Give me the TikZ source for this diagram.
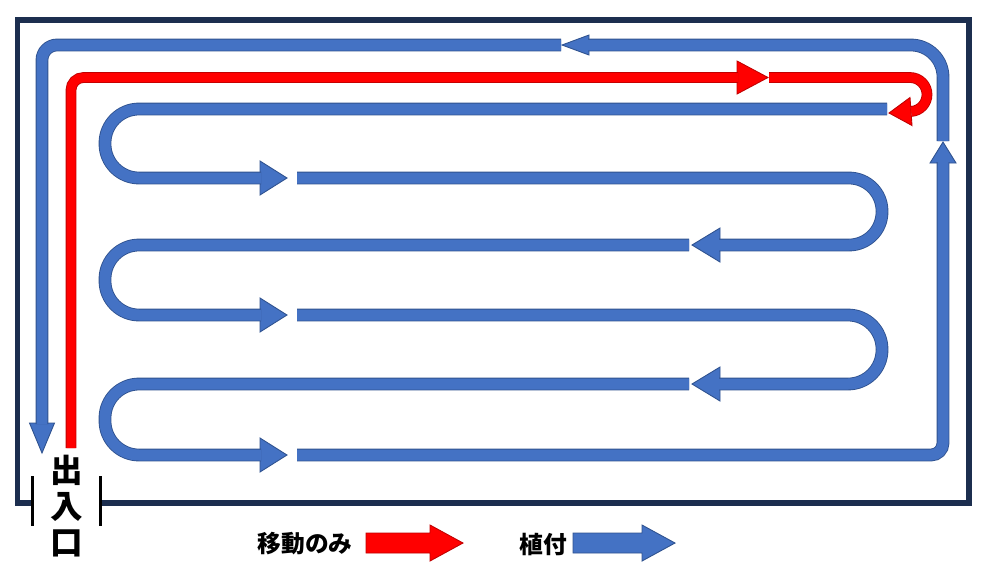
\documentclass[tikz,border=0pt]{standalone}
\usepackage{fontspec}
\newfontfamily\jpfont{Noto Sans CJK JP}
\definecolor{bandblue}{HTML}{4472C4}
\definecolor{bandedge}{HTML}{2F528F}
\definecolor{fieldnavy}{HTML}{1C2E4F}
\definecolor{movered}{HTML}{FF0000}
\definecolor{moveedge}{HTML}{C00000}
\begin{document}
\begin{tikzpicture}[x=0.02cm, y=-0.02cm,
  field/.style={draw=fieldnavy, line width=0.12cm},
  gate/.style={draw=black, line width=0.06cm},
  blueband/.style={draw=bandedge, line width=0.5pt, double=bandblue, double distance=0.22cm},
  bluehead/.style={fill=bandblue, draw=bandedge, line width=0.5pt},
  redband/.style={draw=moveedge, line width=0.5pt, double=movered, double distance=0.18cm},
  redhead/.style={fill=movered, draw=moveedge, line width=0.5pt},
  jptext/.style={font=\jpfont\bfseries\fontsize{13.5}{13.5}\selectfont, inner sep=0pt}]
\useasboundingbox (0,0) rectangle (993,566);
% field and gate
\draw[field] (32,503) -- (17.5,503) -- (17.5,19.5) -- (968.5,19.5) -- (968.5,503) -- (100,503);
\draw[gate] (32.5,476) -- (32.5,526);
\draw[gate] (100,476) -- (100,526);
\node[jptext, font=\jpfont\bfseries\fontsize{18.5}{20.4}\selectfont, align=center] (door) at (67,506) {出\\入\\口};
% planting rows
\draw[bluehead] (260,161) -- (287,178) -- (260,195) -- cycle;
\draw[blueband, rounded corners=0.68cm] (887,109) -- (105,109) -- (105,178) -- (261,178);
\draw[bluehead] (720,228) -- (692,245) -- (720,262) -- cycle;
\draw[blueband, rounded corners=0.66cm] (297,178) -- (882,178) -- (882,245) -- (719,245);
\draw[bluehead] (260,298) -- (287,315) -- (260,332) -- cycle;
\draw[blueband, rounded corners=0.68cm] (689,245) -- (105,245) -- (105,315) -- (261,315);
\draw[bluehead] (720,367) -- (692,384) -- (720,401) -- cycle;
\draw[blueband, rounded corners=0.68cm] (297,315) -- (882,315) -- (882,384) -- (719,384);
\draw[bluehead] (260,438) -- (287,455) -- (260,472) -- cycle;
\draw[blueband, rounded corners=0.68cm] (689,384) -- (105,384) -- (105,455) -- (261,455);
% outer loop
\draw[bluehead] (930,163) -- (943,142) -- (956,163) -- cycle;
\draw[blueband, rounded corners=0.24cm] (297,455) -- (943,455) -- (943,162);
\draw[bluehead] (589,35) -- (562,45) -- (589,55) -- cycle;
\draw[blueband, rounded corners=0.64cm] (943,141) -- (943,45) -- (588,45);
\draw[bluehead] (29.5,423) -- (42,453) -- (54.5,423) -- cycle;
\draw[blueband, rounded corners=0.3cm] (561,45) -- (42,45) -- (42,424);
% move only
\draw[redhead] (737,61) -- (768,77.5) -- (737,94) -- cycle;
\draw[redband, rounded corners=0.25cm] (71,448) -- (71,77.5) -- (738,77.5);
\draw[redhead] (910,97.5) -- (889,113) -- (912,125.5) -- cycle;
\draw[redband] (769,77.5) -- (910,77.5) arc[start angle=90, end angle=-86, radius=0.34cm];
% legend
\node[jptext] (movetext) at (305,544) {移動のみ};
\draw[redhead] (366,533) -- (430,533) -- (430,525) -- (463,543) -- (430,561) -- (430,553) -- (366,553) -- cycle;
\node[jptext] (planttext) at (543.5,544) {植付};
\draw[bluehead] (573,533) -- (642,533) -- (642,525) -- (675,543) -- (642,561) -- (642,553) -- (573,553) -- cycle;
\end{tikzpicture}
\end{document}
